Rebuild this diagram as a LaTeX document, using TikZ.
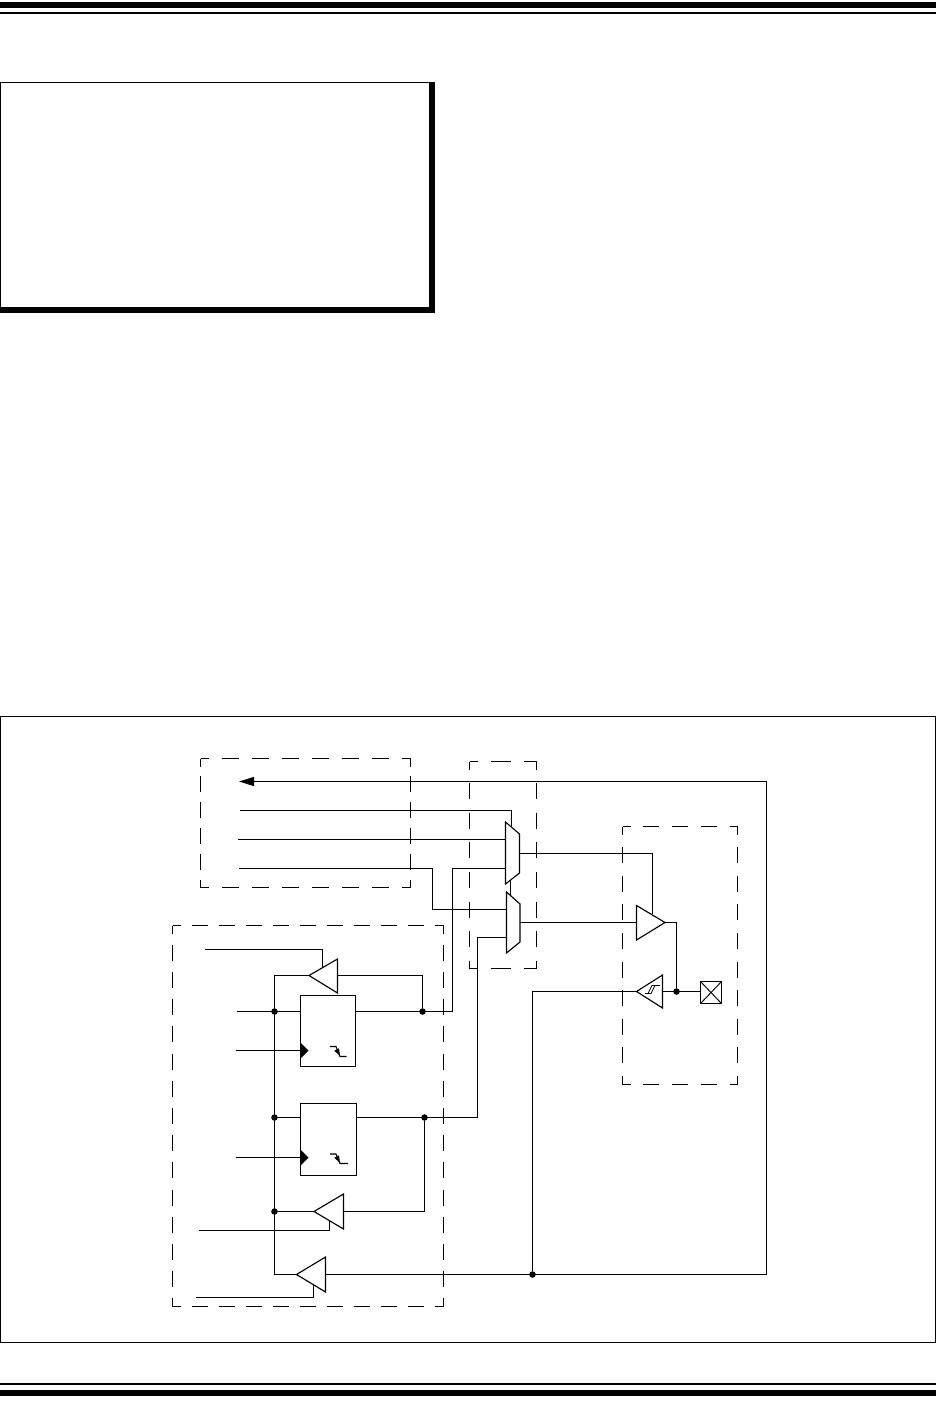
\documentclass[tikz,border=0pt]{standalone}
\usetikzlibrary{arrows.meta}
\tikzset{
  wire/.style={line width=0.85pt,line cap=butt,line join=miter},
  part/.style={line width=0.85pt,fill=white,line join=miter},
  jdot/.style={circle,fill=black,inner sep=0pt,minimum size=4.9pt},
  rulebar/.style={fill=black,draw=none},
  clocktip/.style={fill=black,draw=none}
}
% x1 y1 x2 y2 | horizontal on, off, phase | vertical on, off (in pt)
\newcommand{\groupbox}[9]{%
  \draw[line width=0.85pt,dash pattern=on #5pt off #6pt,dash phase=#7pt] (#1,#2) -- (#3,#2);
  \draw[line width=0.85pt,dash pattern=on #5pt off #6pt,dash phase=#7pt] (#1,#4) -- (#3,#4);
  \draw[line width=0.85pt,dash pattern=on #8pt off #9pt,dash phase=6pt] (#1,#2) -- (#1,#4);
  \draw[line width=0.85pt,dash pattern=on #8pt off #9pt,dash phase=6pt] (#3,#2) -- (#3,#4);
}
\begin{document}
\begin{tikzpicture}[x=0.75pt,y=-0.75pt]
\useasboundingbox (0,0) rectangle (936,1412);
\fill[white] (0,0) rectangle (936,1412);
% page rules
\fill[rulebar] (0,2) rectangle (936,8);
\fill[rulebar] (0,12) rectangle (936,14);
\fill[rulebar] (0,1383) rectangle (936,1385);
\fill[rulebar] (0,1390) rectangle (936,1396);
% top note box
\fill[rulebar] (0,82) rectangle (435,313);
\fill[white] (1,83) rectangle (429,307);
% figure frame
\draw[line width=0.85pt] (0.5,716.5) rectangle (935.5,1342.5);
% dashed groups
\groupbox{200.5}{758.5}{410.5}{887.5}{12.75}{9.75}{6.4}{12}{7.35}
\groupbox{469.5}{761.5}{536.5}{968.5}{15}{10.1}{9}{12}{10.2}
\groupbox{622.5}{826.5}{737.5}{1084.5}{12}{9.65}{6}{12}{9.46}
\groupbox{172.5}{925.5}{443.5}{1306.5}{12}{8.25}{6}{12}{8.4}
% coordinates
\coordinate (iA) at (239,781.5);
\coordinate (iB) at (240,810.5);
\coordinate (iC) at (238,839.5);
\coordinate (iD) at (239,868.5);
\coordinate (railTop) at (766.5,781.5);
\coordinate (railBot) at (766.5,1274.5);
\coordinate (muxAsel) at (511.5,826);
\coordinate (muxAin) at (505.5,839.5);
\coordinate (muxAinb) at (505.5,868.5);
\coordinate (muxAout) at (519.5,853.5);
\coordinate (muxBtop) at (510.5,895);
\coordinate (muxAbot) at (510.5,878);
\coordinate (muxBin) at (506.5,909.5);
\coordinate (muxBinb) at (506.5,937.5);
\coordinate (muxBout) at (520,922.5);
\coordinate (drvIn) at (636.5,922.5);
\coordinate (drvEn) at (652.5,914);
\coordinate (drvOut) at (665,922.5);
\coordinate (stIn) at (636.5,991.5);
\coordinate (stOut) at (662.5,991.5);
\coordinate (pad) at (700.5,991.5);
\coordinate (qA) at (355.5,1011.5);
\coordinate (dA) at (300.5,1011.5);
\coordinate (qB) at (356.5,1117.5);
\coordinate (dB) at (300.5,1117.5);
\coordinate (ckA) at (300.5,1050.5);
\coordinate (ckB) at (300.5,1157.5);
\coordinate (inA) at (237,1011.5);
\coordinate (inCkA) at (236,1050.5);
\coordinate (inCkB) at (236,1157.5);
\coordinate (enA) at (205,949.5);
\coordinate (enAe) at (322.5,967);
\coordinate (enB) at (199,1230.5);
\coordinate (enBe) at (329.5,1221);
\coordinate (enC) at (196,1297.5);
\coordinate (enCe) at (313.5,1285);
\coordinate (tAtip) at (309,975.5);
\coordinate (tAr) at (337.5,975.5);
\coordinate (tBtip) at (314,1211.5);
\coordinate (tBr) at (343.5,1211.5);
\coordinate (tCtip) at (296.5,1274.5);
\coordinate (tCr) at (325.5,1274.5);
\coordinate (busEnd) at (274.5,1274.5);
\coordinate (busTop) at (274.5,975.5);
% junctions
\node[jdot] (jA) at (274.5,1011.5) {};
\node[jdot] (jB) at (274.5,1117.5) {};
\node[jdot] (jC) at (274.5,1211.5) {};
\node[jdot] (jQA) at (422.5,1011.5) {};
\node[jdot] (jQB) at (424.5,1117.5) {};
\node[jdot] (jPad) at (676.5,991.5) {};
\node[jdot] (jRail) at (532.5,1274.5) {};
% wires
\draw[wire] (railBot) -- (railTop);
\draw[wire,-{Triangle[length=11.25pt,width=6.75pt]}] (railTop) -- (iA);
\draw[wire] (iB) -| (muxAsel);
\draw[wire] (iC) -- (muxAin);
\draw[wire] (iD) -| (432.5,909.5) -- (muxBin);
\draw[wire] (qA) -| (452.5,868.5) -- (muxAinb);
\draw[wire] (muxAbot) -- (muxBtop);
\draw[wire] (qB) -| (477.5,937.5) -- (muxBinb);
\draw[wire] (muxAout) -| (drvEn);
\draw[wire] (muxBout) -- (drvIn);
\draw[wire] (drvOut) -| (jPad);
\draw[wire] (stOut) -- (pad);
\draw[wire] (stIn) -| (jRail);
\draw[wire] (railBot) -- (tCr);
\draw[wire] (tCtip) -- (busEnd) -- (busTop) -- (tAtip);
\draw[wire] (tAr) -| (jQA);
\draw[wire] (inA) -- (dA);
\draw[wire] (inCkA) -- (ckA);
\draw[wire] (inCkB) -- (ckB);
\draw[wire] (jB) -- (dB);
\draw[wire] (enA) -| (enAe);
\draw[wire] (enB) -| (enBe);
\draw[wire] (enC) -| (enCe);
\draw[wire] (jQB) |- (tBr);
\draw[wire] (tBtip) -- (jC);
% muxes
\draw[part] (505.5,822) -- (519.5,834) -- (519.5,873) -- (505.5,884) -- cycle;
\draw[part] (506.5,892) -- (520,904) -- (520,942) -- (506.5,953) -- cycle;
% buffers
\draw[part] (636.5,905.5) -- (drvOut) -- (636.5,940) -- cycle;
\draw[part] (stIn) -- (662.5,975) -- (662.5,1008) -- cycle;
\draw[part] (tAtip) -- (337.5,959) -- (337.5,993) -- cycle;
\draw[part] (tBtip) -- (343.5,1194) -- (343.5,1229) -- cycle;
\draw[part] (tCtip) -- (325.5,1257) -- (325.5,1292) -- cycle;
% Schmitt mark
\draw[line width=0.6pt] (645,993.5) -- (651,993.5) -- (655,985.5) -- (660,985.5);
\draw[line width=0.6pt] (648,993.5) -- (652,985.5) -- (657,985.5);
% flip-flops
\draw[part] (300.5,995.5) rectangle (355.5,1066.5);
\draw[part] (300.5,1103.5) rectangle (356.5,1175.5);
\fill[clocktip] (300.5,1042.5) -- (308.5,1050.5) -- (300.5,1058.5) -- cycle;
\fill[clocktip] (300.5,1149.5) -- (308.5,1157.5) -- (300.5,1165.5) -- cycle;
% edge marks
\draw[line width=0.8pt] (330,1046.5) -- (336,1046.5) -- (340,1056.5) -- (346.5,1056.5);
\fill (334.3,1050.7) -- (339,1048.3) -- (340,1056) -- cycle;
\draw[line width=0.8pt] (330,1154) -- (336,1154) -- (340,1163.5) -- (348,1163.5);
\fill (334.3,1157.7) -- (339,1155.3) -- (340,1163) -- cycle;
% pad
\draw[part] (700.5,981.5) rectangle (721.5,1003.5);
\draw[line width=0.7pt] (700.5,981.5) -- (721.5,1003.5) (700.5,1003.5) -- (721.5,981.5);
\end{tikzpicture}
\end{document}
